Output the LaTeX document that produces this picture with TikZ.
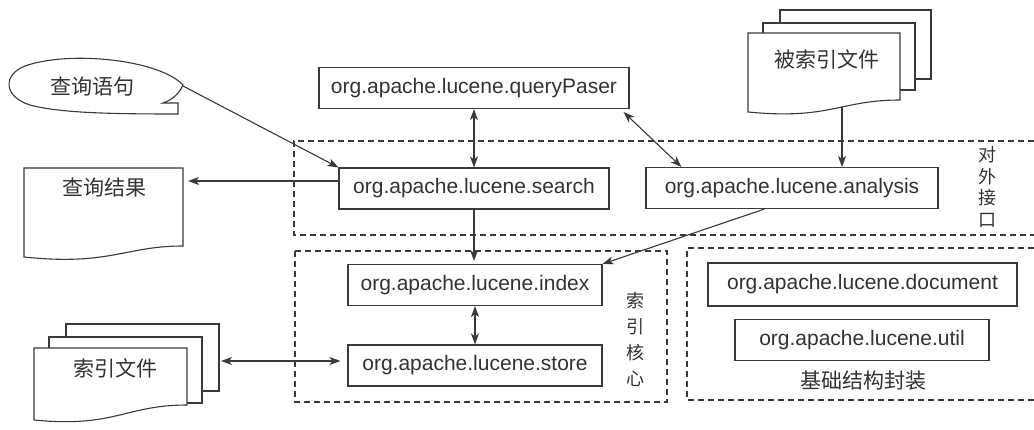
\documentclass[tikz,border=0pt]{standalone}
\usepackage{fontspec}
\setmainfont{Liberation Sans}
\newfontfamily\cjk{Noto Sans CJK SC}
\usetikzlibrary{arrows.meta,calc}
\definecolor{ink}{HTML}{3A3A3A}
\definecolor{txt}{HTML}{333333}
\tikzset{
 pkg/.style={draw=ink, line width=1.1pt, fill=white, inner sep=0pt, minimum height=41pt, font=\fontsize{21}{25}\selectfont, text=txt},
 conn/.style={draw=ink, line width=1.1pt, -{Stealth[length=11pt,width=8pt,inset=3pt]}},
 biconn/.style={draw=ink, line width=1.1pt, {Stealth[length=11pt,width=8pt,inset=3pt]}-{Stealth[length=11pt,width=8pt,inset=3pt]}},
 region/.style={draw=ink, line width=1.1pt, dash pattern=on 6pt off 4pt},
 doc/.style={draw=ink, line width=1.1pt, fill=white},
 cn/.style={font=\cjk\fontsize{21}{25}\selectfont, text=txt, inner sep=0pt},
 vcn/.style={text=txt, align=center, inner sep=0pt},
}
\begin{document}
\begin{tikzpicture}[x=1pt,y=-1pt]
\useasboundingbox[fill=white] (0,0) rectangle (1034,429);

% regions
\draw[region] (1034,141) -- (294,141) -- (294,235) -- (1034,235);
\draw[region] (295,251) rectangle (667,402);
\draw[region] (1034,248) -- (687,248) -- (687,400) -- (1034,400);

% region labels
\node[vcn, font=\cjk\fontsize{18}{21.5}\selectfont] (lbl1) at (987,187) {对\\外\\接\\口};
\node[vcn, font=\cjk\fontsize{18}{26}\selectfont] (lbl2) at (635,339) {索\\引\\核\\心};
\node[cn] (lbl3) at (863,381) {基础结构封装};

% packages
\node[pkg, minimum width=310pt] (qp) at (474,88) {org.apache.lucene.queryPaser};
\node[pkg, minimum width=270pt] (search) at (474,188.5) {org.apache.lucene.search};
\node[pkg, minimum width=292pt] (analysis) at (792,188) {org.apache.lucene.analysis};
\node[pkg, minimum width=254pt] (index) at (475,285) {org.apache.lucene.index};
\node[pkg, minimum width=254pt] (store) at (475,365.5) {org.apache.lucene.store};
\node[pkg, minimum width=309pt, minimum height=43pt] (document) at (862.5,284.5) {org.apache.lucene.document};
\node[pkg, minimum width=254pt] (util) at (862,340) {org.apache.lucene.util};

% query bubble
\draw[doc] (183,85) .. controls (160,60) and (70,50) .. (25,66) .. controls (2,75) and (4,97) .. (30,105) .. controls (60,113) and (110,114) .. (178,114) -- (178,103) -- (163,103) .. controls (172,100) and (179,94) .. (183,85) -- cycle;
\coordinate (qtip) at (183,86);
\node[cn] (qtext) at (92,87) {查询语句};

% result doc
\draw[doc] (24,168) -- (183,168) -- (183,246) .. controls (125,246) and (110,266) .. (24,257) -- cycle;
\node[cn] (rtext) at (104,188) {查询结果};
\coordinate (rin) at (188,181);

% indexed source docs
\draw[doc] (780,10) rectangle (931,79);
\draw[doc] (763,23) rectangle (915,90);
\draw[doc] (748,33) -- (900,33) -- (900,100) .. controls (840,100) and (830,120) .. (748,112) -- cycle;
\node[cn] (srctext) at (827,59) {被索引文件};
\coordinate (srcout) at (842,107);

% index files
\draw[doc] (66,324) rectangle (219,391);
\draw[doc] (49,337) rectangle (202,403);
\draw[doc] (34,348) -- (187,348) -- (187,405) .. controls (125,405) and (115,428) .. (34,420) -- cycle;
\node[cn] (idxtext) at (115,368) {索引文件};
\coordinate (idxport) at (221,361);

% connectors
\draw[conn] (qtip) -- (search.north west);
\draw[biconn] (qp.south) -- (search.north);
\draw[biconn] ($(qp.south east)+(-6,3)$) -- ($(analysis.north west)+(36,0)$);
\draw[conn] (srcout) -- (srcout |- analysis.north);
\draw[conn] (search.west |- rin) -- (rin);
\draw[conn, shorten >=3pt] (search.south) -- (search.south |- index.north);
\draw[conn] ($(analysis.south west)+(119,0)$) -- (index.north east);
\draw[biconn] (index.south) -- (store.north);
\draw[biconn, shorten >=7pt] (idxport) -- (idxport -| store.west);
\end{tikzpicture}
\end{document}
